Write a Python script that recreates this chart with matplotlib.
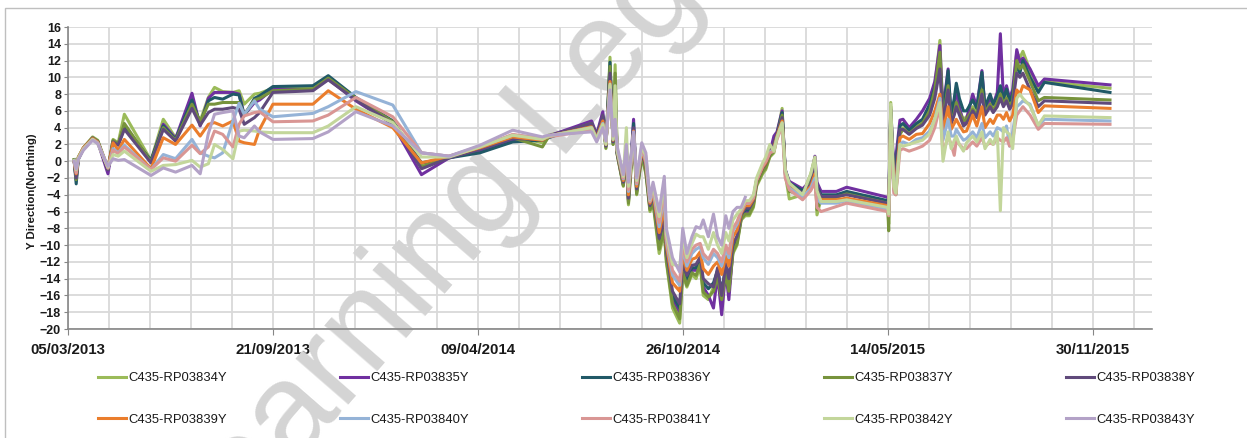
import pandas as pd
import matplotlib
matplotlib.use("Agg")
import matplotlib.pyplot as plt
from matplotlib.patches import Rectangle

plt.rcParams['font.family'] = ['Liberation Sans Narrow', 'Liberation Sans', 'DejaVu Sans']

# x values: days after 05/03/2013
start = pd.Timestamp("2013-03-05")
days = [6, 8, 10, 15, 24, 29, 39, 44, 49, 55, 81, 93, 105, 121, 129, 137, 143, 151, 161, 167, 172, 182, 187, 200,
        239, 254, 281, 317, 345, 372, 402, 434, 463, 469, 511, 516, 522, 525, 529, 532, 534, 536,
        542, 545, 547, 552, 555, 560, 564, 568, 571, 577, 582, 584, 590, 597, 600, 604, 609, 613, 617, 620,
        625, 630, 634, 638, 642, 645, 649, 653, 657, 661, 665, 669, 672, 678, 681, 685, 689, 692, 697, 700, 704,
        717, 725, 729, 731, 735, 750, 760, 800, 801, 803, 806, 808, 812, 815, 821, 828, 834, 841, 846, 851,
        854, 859, 862, 865, 867, 870, 874, 877, 883, 887, 892, 895, 900, 903, 907, 910, 913, 916, 919, 922,
        926, 929, 932, 939, 947, 953, 1017]

rp03834 = [0.2, -1.8, 0.5, 1.6, 2.9, 2.5, -0.8, 2.6, 2.2, 5.6, 0.1, 5.0, 2.8, 6.6, 4.8, 7.6, 8.8, 8.3, 8.2, 8.4, 6.8, 8.0, 8.1, 8.7,
           8.8, 10.0, 7.4, 4.6, -0.5, 0.5, 1.6, 3.0, 2.2, 3.1, 4.4, 3.0, 5.2, 1.5, 12.4, 2.0, 11.5, 0.8,
           -3.0, 0.5, -5.2, 3.0, -4.0, 0.5, -1.5, -6.0, -5.0, -11.0, -8.5, -12.0, -17.5, -19.3, -13.5, -15.0, -13.5, -14.0, -12.5, -16.0,
           -16.5, -15.0, -14.0, -16.0, -13.5, -15.5, -11.0, -10.0, -7.0, -6.5, -6.5, -5.5, -3.0, -1.5, -1.0, 0.5, 1.0, 3.0, 6.3, -1.5, -4.5,
           -4.0, -1.5, 0.5, -6.4, -4.5, -4.2, -3.9, -5.0, -7.5, 7.0, -3.0, -3.8, 3.5, 4.0, 3.5, 4.3, 4.8, 6.3, 9.0, 14.4,
           4.5, 9.5, 4.8, 6.0, 7.5, 6.0, 5.0, 5.3, 6.5, 5.8, 9.0, 6.0, 7.0, 6.2, 7.2, 8.5, 7.0, 8.0, 6.8, 7.5,
           13.0, 12.3, 13.1, 10.8, 8.6, 9.5, 8.7]
rp03835 = [0.0, -2.2, 0.3, 1.5, 2.8, 2.3, -1.5, 2.2, 2.0, 4.3, 0.0, 4.4, 2.7, 8.1, 4.2, 7.5, 8.2, 8.2, 8.2, 8.0, 5.5, 7.0, 7.3, 8.6,
           8.5, 9.8, 7.2, 4.4, -1.6, 0.4, 1.3, 2.5, 2.5, 3.0, 4.8, 3.2, 5.9, 2.0, 11.0, 2.5, 8.0, 1.0,
           -2.8, 1.0, -4.8, 5.0, -3.6, 1.0, -1.0, -5.6, -4.5, -10.0, -7.5, -11.3, -16.5, -18.0, -12.8, -14.5, -13.0, -13.0, -12.0, -15.0,
           -16.0, -17.5, -13.5, -18.3, -13.0, -16.5, -10.5, -9.5, -6.8, -6.0, -6.0, -5.0, -2.6, -1.0, -0.5, 1.0, 3.0, 3.5, 6.0, -1.0, -2.4,
           -3.3, -2.3, 0.6, -2.5, -3.6, -3.6, -3.1, -4.3, -5.0, 6.2, -0.8, 0.5, 4.9, 5.0, 4.0, 5.0, 6.0, 7.5, 9.5, 13.8,
           6.0, 11.0, 5.0, 7.0, 8.5, 6.5, 4.5, 5.0, 8.0, 6.5, 10.8, 6.3, 7.5, 6.8, 8.2, 15.2, 7.5, 9.0, 7.5, 8.5,
           13.3, 11.8, 12.3, 11.0, 9.0, 9.8, 9.1]
rp03836 = [0.1, -2.7, 0.2, 1.5, 2.7, 2.4, -1.0, 2.4, 2.0, 4.0, 0.1, 4.2, 2.6, 7.3, 4.5, 7.2, 7.6, 7.4, 8.0, 7.9, 5.4, 7.5, 7.8, 8.9,
           9.0, 10.2, 7.6, 4.8, -0.2, 0.4, 1.0, 2.3, 2.5, 2.8, 4.5, 3.0, 5.3, 1.8, 11.8, 2.2, 7.0, 1.0,
           -2.7, 1.0, -4.6, 4.5, -3.5, 1.0, -0.8, -5.4, -4.3, -9.6, -7.2, -11.0, -16.0, -17.5, -12.5, -14.0, -12.7, -12.7, -11.8, -14.5,
           -15.2, -14.5, -13.0, -15.5, -12.6, -14.5, -10.2, -9.2, -6.6, -5.8, -5.8, -4.8, -2.5, -0.9, -0.4, 0.9, 2.0, 3.2, 5.8, -1.0, -2.6,
           -3.5, -2.5, -0.3, -3.0, -4.0, -4.0, -3.6, -4.7, -5.5, 5.8, -1.5, -0.5, 4.2, 4.5, 3.7, 4.5, 5.0, 6.8, 8.8, 12.0,
           5.5, 10.8, 5.5, 7.5, 9.3, 7.5, 6.0, 6.0, 7.3, 6.3, 10.6, 6.5, 8.0, 6.8, 7.8, 9.0, 7.5, 8.6, 7.2, 8.0,
           11.5, 10.5, 12.0, 10.0, 8.2, 9.4, 8.2]
rp03837 = [0.2, -2.2, 0.4, 1.6, 2.8, 2.4, -1.0, 2.5, 2.0, 4.5, -0.1, 4.0, 2.5, 6.8, 4.7, 6.8, 6.8, 7.0, 7.0, 7.0, 5.6, 7.3, 7.5, 8.4,
           8.6, 9.9, 7.5, 4.7, -0.7, 0.5, 1.5, 2.8, 1.7, 2.9, 4.5, 2.8, 5.0, 1.6, 11.3, 2.0, 10.5, 0.8,
           -2.9, 0.7, -5.0, 3.4, -3.9, 0.6, -1.3, -5.8, -4.8, -10.5, -8.2, -11.8, -17.0, -18.8, -13.2, -14.8, -13.3, -13.6, -12.3, -15.6,
           -16.2, -15.5, -13.8, -16.5, -13.3, -15.5, -10.8, -9.8, -6.9, -6.3, -6.3, -5.3, -2.8, -1.3, -0.8, 0.6, 1.2, 3.0, 5.5, -1.3, -3.6,
           -4.0, -2.6, -0.5, -5.8, -4.4, -4.3, -3.9, -5.0, -8.3, 6.5, -3.3, -4.0, 3.2, 3.8, 3.3, 4.0, 4.5, 6.0, 8.5, 13.0,
           4.8, 9.0, 4.5, 5.8, 7.0, 5.8, 4.8, 5.0, 6.2, 5.5, 8.5, 5.8, 6.8, 6.0, 7.0, 8.0, 6.8, 7.5, 6.5, 7.2,
           12.0, 11.0, 11.5, 9.5, 7.2, 7.6, 7.3]
rp03838 = [0.1, -2.0, 0.3, 1.5, 2.7, 2.3, -1.0, 2.3, 1.9, 3.8, -0.2, 3.8, 2.4, 6.3, 4.3, 5.8, 6.2, 6.2, 6.4, 6.2, 4.4, 5.2, 5.8, 8.2,
           8.4, 9.7, 7.3, 4.5, -0.9, 0.4, 1.4, 2.7, 2.6, 3.0, 4.5, 3.0, 5.5, 1.8, 10.5, 2.3, 7.5, 1.0,
           -2.5, 1.2, -4.4, 4.0, -3.3, 1.1, -0.6, -5.3, -4.1, -9.2, -6.8, -10.6, -15.5, -17.0, -12.0, -13.6, -12.4, -12.3, -11.4, -14.0,
           -14.6, -15.0, -12.7, -16.0, -12.2, -14.0, -9.9, -8.9, -6.4, -5.6, -5.6, -4.7, -2.4, -0.8, -0.3, 0.9, 2.2, 3.2, 5.2, -1.0, -2.8,
           -3.8, -2.8, -0.8, -3.2, -4.2, -4.2, -4.0, -5.0, -5.8, 5.5, -2.0, -1.5, 3.8, 3.8, 3.2, 3.9, 4.3, 5.5, 7.5, 11.0,
           4.5, 8.5, 4.5, 5.5, 6.5, 5.5, 4.2, 4.5, 6.0, 5.2, 8.0, 5.5, 6.5, 5.8, 6.5, 7.5, 6.5, 7.2, 6.2, 6.8,
           10.5, 10.0, 10.5, 8.5, 6.5, 7.2, 6.9]
rp03839 = [0.0, -1.5, 0.4, 1.6, 2.7, 2.3, -0.8, 2.2, 1.3, 2.6, -0.9, 2.8, 2.0, 4.3, 3.0, 4.4, 4.6, 4.2, 4.8, 2.4, 2.2, 2.0, 3.8, 6.8,
           6.8, 8.4, 6.2, 4.0, -0.2, 0.6, 1.6, 2.9, 2.5, 3.0, 4.1, 2.8, 4.8, 2.0, 9.5, 2.5, 6.0, 1.2,
           -2.3, 1.3, -4.0, 3.6, -3.0, 1.3, -0.3, -5.0, -3.8, -8.5, -5.5, -10.0, -14.5, -15.5, -11.2, -13.0, -11.7, -11.5, -10.8, -12.8,
           -13.5, -12.5, -12.0, -13.5, -11.3, -12.5, -9.0, -8.2, -6.2, -5.3, -5.3, -4.5, -2.3, -0.7, -0.2, 1.0, 1.6, 3.0, 4.8, -1.2, -3.0,
           -4.0, -3.0, -1.5, -4.0, -4.6, -4.6, -4.4, -5.3, -6.0, 5.0, -3.0, -2.5, 2.8, 3.0, 2.6, 3.2, 3.3, 4.5, 6.0, 8.0,
           3.5, 6.5, 3.8, 4.5, 5.0, 4.3, 3.5, 3.6, 5.5, 4.2, 6.5, 4.0, 5.0, 4.5, 5.5, 5.5, 5.0, 5.8, 4.8, 5.5,
           8.5, 8.0, 9.0, 8.5, 5.8, 6.6, 6.3]
rp03840 = [0.1, -1.2, 0.3, 1.5, 2.6, 2.2, -0.8, 1.5, 1.0, 1.9, -1.0, 0.8, 0.3, 2.6, 1.0, 0.6, 0.4, 1.0, 4.8, 6.9, 5.6, 7.2, 6.2, 5.3,
           5.7, 6.5, 8.3, 6.7, 1.0, 0.6, 1.8, 3.1, 2.8, 3.0, 4.0, 2.7, 4.5, 2.2, 9.0, 2.6, 5.5, 1.3,
           -2.1, 1.5, -3.6, 3.4, -2.7, 1.5, 0.0, -4.8, -3.4, -7.8, -4.0, -9.5, -13.6, -14.8, -10.5, -12.5, -11.0, -10.5, -10.2, -11.5,
           -12.3, -11.0, -11.5, -12.5, -10.5, -11.5, -8.3, -7.5, -6.0, -5.0, -5.0, -4.3, -2.2, -0.5, 0.0, 1.1, 1.4, 2.8, 4.5, -1.5, -3.2,
           -4.3, -3.2, -2.0, -4.5, -5.0, -5.0, -4.7, -5.7, -6.2, 4.8, -3.5, -3.0, 2.0, 2.3, 2.0, 2.6, 2.8, 3.6, 5.0, 7.5,
           2.5, 5.0, 3.0, 3.0, 3.8, 3.2, 2.5, 2.7, 3.5, 2.8, 4.5, 2.8, 3.5, 3.0, 4.0, 3.8, 3.5, 4.2, 1.8, 3.5,
           6.5, 6.8, 7.2, 6.8, 4.2, 5.0, 4.8]
rp03841 = [0.0, -1.4, 0.3, 1.5, 2.6, 2.2, -0.8, 1.3, 0.9, 1.7, -1.0, 0.4, 0.0, 1.9, 0.9, 1.7, 3.6, 3.2, 1.7, 4.4, 5.4, 5.8, 5.9, 4.7,
           4.8, 5.5, 7.6, 5.3, 1.0, 0.6, 1.7, 3.2, 2.7, 2.9, 3.7, 2.5, 4.2, 2.2, 8.8, 2.8, 5.0, 1.5,
           -2.0, 1.5, -3.4, 3.2, -2.6, 1.6, 0.2, -4.8, -3.2, -7.3, -3.5, -9.2, -13.0, -14.3, -10.0, -12.0, -10.5, -10.0, -9.8, -11.0,
           -11.7, -10.5, -11.0, -12.0, -10.0, -11.0, -8.0, -7.2, -5.9, -5.0, -5.0, -4.3, -2.3, -0.6, 0.0, 1.0, 1.2, 2.6, 4.2, -2.0, -3.4,
           -4.6, -3.5, -2.5, -5.5, -6.0, -5.4, -5.0, -6.0, -6.5, 4.5, -3.8, -4.0, 1.3, 1.5, 1.2, 1.5, 1.8, 2.5, 4.0, 6.5,
           0.9, 3.0, 2.0, 0.7, 2.5, 2.0, 1.5, 1.5, 2.3, 1.8, 2.8, 1.8, 2.2, 2.0, 2.8, 2.5, 2.3, 2.8, 1.8, 2.5,
           5.5, 6.0, 6.5, 5.5, 3.8, 4.5, 4.4]
rp03842 = [0.1, -1.0, 0.3, 1.4, 2.6, 2.1, -0.7, 0.8, 0.6, 1.2, -1.2, -0.5, -0.4, 0.1, -0.7, -0.3, 2.0, 1.4, 0.3, 3.6, 3.7, 3.6, 3.5, 3.4,
           3.4, 4.2, 6.5, 4.6, 0.5, 0.5, 1.7, 3.1, 2.6, 3.0, 4.0, 2.6, 4.4, 2.0, 9.2, 2.6, 9.0, 1.3,
           -1.8, 4.0, -3.0, 3.3, -2.3, 1.8, 0.6, -4.6, -2.9, -6.6, -2.5, -8.7, -12.3, -12.5, -9.2, -11.5, -9.8, -8.7, -9.0, -9.0,
           -10.5, -8.5, -10.0, -11.0, -8.5, -9.5, -7.0, -6.3, -5.7, -4.7, -4.7, -4.0, -2.0, -0.2, 0.5, 2.0, 1.2, 2.8, 4.6, -1.0, -2.6,
           -4.0, -1.5, 0.5, -3.5, -4.8, -4.8, -4.6, -5.5, -6.3, 6.8, -3.0, -3.8, 2.0, 1.8, 2.0, 2.3, 2.5, 3.3, 5.0, 7.0,
           0.0, 3.5, 1.5, 2.5, 3.0, 2.0, 1.2, 2.2, 3.0, 2.3, 3.5, 1.5, 2.6, 2.0, 3.5, -5.9, 4.0, 3.5, 3.2, 1.5,
           7.5, 8.0, 7.5, 6.6, 4.3, 5.4, 5.2]
# this gauge stops reporting in late 2014
rp03843 = [0.0, -0.9, 0.2, 1.3, 2.5, 2.1, -0.6, 0.3, 0.1, 0.2, -1.7, -0.8, -1.3, -0.5, -1.5, 3.3, 5.6, 5.8, 6.0, 3.0, 2.8, 4.2, 3.5, 2.6,
           2.7, 3.5, 5.9, 4.2, 1.0, 0.6, 1.9, 3.7, 2.9, 3.1, 3.5, 2.3, 4.0, 2.4, 8.5, 3.0, 5.0, 1.8,
           -1.6, 2.0, -2.5, 3.5, -2.0, 2.2, 1.0, -4.5, -2.5, -6.0, -1.8, -8.0, -11.5, -13.2, -8.0, -11.0, -9.0, -7.8, -8.0, -7.0,
           -9.0, -6.3, -9.0, -10.0, -6.5, -8.0, -6.0, -5.5, -5.5, -4.3]

names = ["C435-RP03834Y", "C435-RP03835Y", "C435-RP03836Y", "C435-RP03837Y", "C435-RP03838Y",
         "C435-RP03839Y", "C435-RP03840Y", "C435-RP03841Y", "C435-RP03842Y", "C435-RP03843Y"]
colors = ["#9BBB59", "#7030A0", "#215967", "#77933C", "#604A7B",
          "#EA7D2C", "#95B3D7", "#D99694", "#C3D69B", "#B3A2C7"]
values = [rp03834, rp03835, rp03836, rp03837, rp03838,
          rp03839, rp03840, rp03841, rp03842, rp03843]

dates = start + pd.to_timedelta(days, unit="D")

fig = plt.figure(figsize=(12.47, 4.38), dpi=100)
ax = fig.add_axes([68 / 1247, 1 - 329 / 438, 1084 / 1247, 302 / 438])
ax.patch.set_alpha(0)

lines = []
for name, col, vals in zip(names, colors, values):
    ln, = ax.plot(dates[:len(vals)], vals, color=col, lw=2.2, label=name, zorder=2,
                  solid_joinstyle="round")
    lines.append(ln)

ax.set_xlim(start, start + pd.Timedelta(days=1058))
ax.set_ylim(-20, 16)
ax.set_yticks(range(-20, 17, 2))
major = [start + pd.Timedelta(days=200 * k) for k in range(6)]
minor = [start + pd.Timedelta(days=40 * k) for k in range(27)]
ax.set_xticks(major)
ax.set_xticklabels([d.strftime("%d/%m/%Y") for d in major])
ax.set_xticks(minor, minor=True)

ax.set_axisbelow(True)
ax.grid(which="both", axis="x", color="#D9D9D9", lw=1.3)
ax.grid(which="major", axis="y", color="#D9D9D9", lw=1.3)

for side in ["top", "right"]:
    ax.spines[side].set_visible(False)
for side in ["left", "bottom"]:
    ax.spines[side].set_color("#868686")
    ax.spines[side].set_linewidth(1.2)

ax.tick_params(axis="x", which="major", length=4, color="#868686", pad=6,
               labelsize=10.8, labelcolor="#1a1a1a")
ax.tick_params(axis="x", which="minor", length=0)
ax.tick_params(axis="y", length=3, color="#868686", pad=2, labelsize=9, labelcolor="#1a1a1a")
for lab in ax.get_xticklabels() + ax.get_yticklabels():
    lab.set_fontweight("bold")

ax.set_ylabel("Y Direction(Northing)", fontsize=8.2, fontweight="bold", color="#1a1a1a")
ax.yaxis.set_label_coords(-31 / 1084, 0.455)

# watermark
ax.text(199 / 1247, 1 - 577 / 438, "Learning Legacy", transform=fig.transFigure,
        rotation=49, rotation_mode="anchor", ha="left", va="baseline",
        fontsize=95, color="#D4D4D4", zorder=1, clip_on=False)

# outer frame
fig.add_artist(Rectangle((5 / 1247, -0.1), 1.2, 1.1 - 8 / 438, transform=fig.transFigure,
                         fill=False, edgecolor="#BFBFBF", lw=1.0, clip_on=False))

order = [0, 5, 1, 6, 2, 7, 3, 8, 4, 9]
fig.legend([lines[i] for i in order], [names[i] for i in order],
           loc="upper left", bbox_to_anchor=(98 / 1247, 1 - 372 / 438, 1097 / 1247, 0.0),
           mode="expand", ncol=5, frameon=False, borderpad=0, borderaxespad=0,
           fontsize=9.4, handlelength=2.15, handletextpad=0.2, labelspacing=2.25,
           labelcolor="#1a1a1a")

fig.savefig("out.png", dpi=100)
